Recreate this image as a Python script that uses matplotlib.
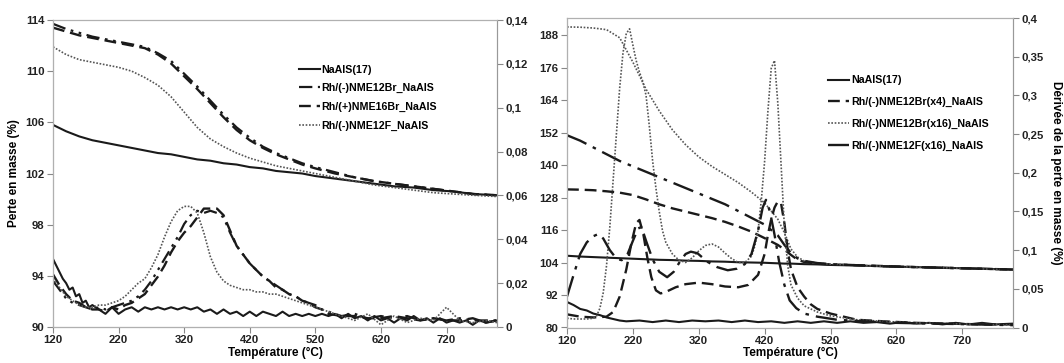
import numpy as np
import matplotlib
matplotlib.use("Agg")
import matplotlib.pyplot as plt
from matplotlib.ticker import FuncFormatter, MultipleLocator

plt.rcParams["font.family"] = ["Liberation Sans", "DejaVu Sans"]
plt.rcParams["font.weight"] = "bold"

# ---------------- left panel: TGA (primary, %) ----------------
t_tga_l = [120, 140, 160, 180, 200, 220, 240, 260, 280, 300, 320, 340, 360, 380, 400,
           420, 440, 460, 480, 500, 520, 550, 580, 610, 640, 670, 700, 730, 760, 797]
tga_l_naals = [105.8, 105.3, 104.9, 104.6, 104.4, 104.2, 104.0, 103.8, 103.6, 103.5,
               103.3, 103.1, 103.0, 102.8, 102.7, 102.5, 102.4, 102.2, 102.1, 102.0,
               101.8, 101.6, 101.4, 101.2, 101.0, 100.9, 100.7, 100.6, 100.4, 100.3]
tga_l_12br = [113.7, 113.3, 113.0, 112.7, 112.5, 112.3, 112.1, 111.9, 111.4, 110.8,
              109.8, 108.8, 107.7, 106.6, 105.6, 104.8, 104.1, 103.6, 103.2, 102.8,
              102.5, 102.1, 101.7, 101.4, 101.2, 101.0, 100.8, 100.6, 100.4, 100.3]
tga_l_16br = [113.4, 113.1, 112.8, 112.6, 112.4, 112.2, 112.0, 111.8, 111.3, 110.6,
              109.6, 108.6, 107.5, 106.4, 105.4, 104.6, 104.0, 103.5, 103.1, 102.7,
              102.4, 102.0, 101.7, 101.4, 101.2, 101.0, 100.8, 100.6, 100.4, 100.3]
tga_l_12f = [111.9, 111.3, 110.9, 110.7, 110.5, 110.3, 110.0, 109.5, 108.9, 108.0,
             106.8, 105.6, 104.7, 104.1, 103.6, 103.2, 102.9, 102.6, 102.4, 102.2,
             102.0, 101.7, 101.4, 101.1, 100.9, 100.7, 100.5, 100.4, 100.3, 100.2]

# ---------------- left panel: DTG (secondary) ----------------
t_dtg_l = [120, 130, 140, 150, 160, 170, 180, 190, 200, 210, 220, 230, 240, 250, 260,
           270, 280, 290, 300, 310, 320, 330, 340, 350, 360, 370, 380, 390, 400, 410,
           420, 430, 440, 450, 460, 470, 480, 490, 500, 510, 520, 530, 540, 560, 580,
           600, 620, 640, 660, 680, 700, 720, 740, 760, 780, 797]
dtg_l_16br = [0.024, 0.019, 0.015, 0.012, 0.011, 0.009, 0.008, 0.008, 0.007, 0.009,
              0.008, 0.010, 0.011, 0.013, 0.015, 0.019, 0.023, 0.028, 0.034, 0.039,
              0.043, 0.046, 0.050, 0.054, 0.054, 0.054, 0.051, 0.044, 0.037, 0.033,
              0.029, 0.026, 0.023, 0.021, 0.018, 0.017, 0.015, 0.014, 0.012, 0.011,
              0.009, 0.008, 0.006, 0.005, 0.005, 0.004, 0.004, 0.005, 0.004, 0.003,
              0.004, 0.003, 0.003, 0.004, 0.002, 0.003]
dtg_l_12br = [0.021, 0.017, 0.013, 0.011, 0.010, 0.009, 0.008, 0.009, 0.008, 0.009,
              0.010, 0.011, 0.012, 0.014, 0.017, 0.021, 0.026, 0.031, 0.036, 0.041,
              0.047, 0.051, 0.053, 0.052, 0.053, 0.052, 0.050, 0.043, 0.037, 0.033,
              0.029, 0.026, 0.023, 0.021, 0.019, 0.017, 0.015, 0.014, 0.012, 0.011,
              0.010, 0.008, 0.007, 0.005, 0.006, 0.004, 0.005, 0.004, 0.005, 0.003,
              0.004, 0.003, 0.004, 0.003, 0.003, 0.003]
dtg_l_12f = [0.022, 0.018, 0.014, 0.012, 0.010, 0.009, 0.009, 0.010, 0.010, 0.011,
             0.012, 0.014, 0.017, 0.020, 0.022, 0.027, 0.033, 0.041, 0.048, 0.053,
             0.055, 0.055, 0.052, 0.043, 0.032, 0.025, 0.021, 0.019, 0.018, 0.017,
             0.017, 0.016, 0.016, 0.015, 0.015, 0.014, 0.013, 0.012, 0.011, 0.010,
             0.009, 0.008, 0.007, 0.005, 0.003, 0.006, 0.001, 0.005, 0.002, 0.004,
             0.003, 0.009, 0.003, 0.002, 0.003, 0.002]
t_dtg_base = [120, 125, 130, 135, 140, 145, 150, 155, 160, 165, 170, 175, 180, 190,
              200, 210, 220, 230, 240, 250, 260, 270, 280, 290, 300, 310, 320, 330,
              340, 350, 360, 370, 380, 390, 400, 410, 420, 430, 440, 450, 460, 470,
              480, 490, 500, 510, 520, 530, 540, 550, 560, 570, 580, 590, 600, 610,
              620, 630, 640, 650, 660, 670, 680, 690, 700, 710, 720, 730, 740, 750,
              760, 770, 780, 797]
dtg_l_naals = [0.031, 0.028, 0.025, 0.022, 0.020, 0.017, 0.018, 0.014, 0.015, 0.011,
               0.012, 0.009, 0.010, 0.008, 0.006, 0.009, 0.006, 0.008, 0.009, 0.007,
               0.009, 0.008, 0.009, 0.008, 0.009, 0.008, 0.009, 0.008, 0.009, 0.007,
               0.008, 0.006, 0.008, 0.006, 0.007, 0.005, 0.007, 0.005, 0.007, 0.006,
               0.005, 0.007, 0.005, 0.006, 0.005, 0.006, 0.005, 0.006, 0.005, 0.006,
               0.004, 0.006, 0.004, 0.005, 0.003, 0.005, 0.003, 0.004, 0.002, 0.004,
               0.003, 0.005, 0.003, 0.004, 0.002, 0.004, 0.002, 0.003, 0.002, 0.003,
               0.001, 0.003, 0.002, 0.003]

# ---------------- right panel: TGA (primary, %) ----------------
t_tga_r = [120, 140, 160, 180, 200, 220, 240, 260, 280, 300, 320, 340, 360, 380, 400,
           420, 440, 450, 460, 470, 480, 500, 520, 560, 600, 650, 700, 750, 797]
tga_r_naals = [106.5, 106.2, 106.0, 105.8, 105.6, 105.4, 105.2, 105.0, 104.9, 104.7,
               104.6, 104.4, 104.3, 104.1, 104.0, 103.9, 103.7, 103.6, 103.6, 103.5,
               103.4, 103.3, 103.1, 102.9, 102.6, 102.3, 102.0, 101.7, 101.4]
tga_r_x4 = [131.0, 130.9, 130.7, 130.3, 129.8, 128.9, 127.3, 125.5, 124.0, 122.8,
            121.6, 120.4, 119.0, 117.3, 115.4, 113.0, 110.5, 108.8, 106.8, 105.0,
            104.2, 103.6, 103.3, 103.0, 102.7, 102.3, 102.0, 101.7, 101.4]
tga_r_x16 = [191.0, 190.9, 190.6, 190.0, 187.0, 178.0, 168.0, 160.0, 153.0, 147.5,
             143.0, 139.5, 136.5, 133.5, 130.0, 126.0, 120.0, 115.0, 109.0, 106.0,
             104.6, 103.8, 103.4, 103.0, 102.6, 102.3, 102.0, 101.6, 101.3]
tga_r_12f = [151.0, 149.0, 146.5, 144.0, 141.5, 139.5, 137.5, 135.5, 133.5, 131.5,
             129.5, 127.5, 125.5, 123.0, 120.5, 118.0, 114.0, 110.5, 107.5, 105.5,
             104.6, 103.8, 103.4, 103.0, 102.6, 102.3, 102.0, 101.7, 101.4]

# ---------------- right panel: DTG (secondary), (T, value) ----------------
dtg_r_naals = [(120, 0.033), (130, 0.029), (140, 0.024), (150, 0.022), (160, 0.018),
               (170, 0.016), (180, 0.013), (190, 0.011), (200, 0.009), (210, 0.008),
               (230, 0.009), (250, 0.007), (270, 0.009), (290, 0.007), (310, 0.009),
               (330, 0.008), (350, 0.009), (370, 0.007), (390, 0.009), (410, 0.007),
               (430, 0.008), (450, 0.006), (470, 0.008), (490, 0.006), (510, 0.008),
               (530, 0.006), (550, 0.008), (570, 0.006), (590, 0.007), (610, 0.005),
               (630, 0.007), (650, 0.005), (670, 0.006), (690, 0.004), (710, 0.006),
               (730, 0.004), (750, 0.006), (770, 0.004), (797, 0.005)]
dtg_r_x4 = [(120, 0.017), (140, 0.014), (160, 0.013), (180, 0.014), (190, 0.020),
            (200, 0.040), (210, 0.075), (218, 0.110), (225, 0.135), (230, 0.139),
            (236, 0.120), (242, 0.090), (248, 0.065), (255, 0.048), (262, 0.044),
            (270, 0.046), (285, 0.052), (300, 0.056), (320, 0.058), (340, 0.056),
            (360, 0.053), (380, 0.052), (395, 0.055), (410, 0.068), (420, 0.095),
            (425, 0.120), (430, 0.140), (435, 0.155), (440, 0.163), (445, 0.160),
            (450, 0.135), (455, 0.100), (460, 0.075), (470, 0.052), (480, 0.040),
            (490, 0.030), (500, 0.024), (520, 0.018), (540, 0.014), (560, 0.010),
            (600, 0.008), (650, 0.006), (700, 0.005), (750, 0.004), (797, 0.004)]
dtg_r_x16 = [(120, 0.012), (130, 0.011), (140, 0.011), (150, 0.011), (160, 0.012),
             (165, 0.015), (170, 0.025), (175, 0.045), (180, 0.080), (185, 0.130),
             (190, 0.190), (195, 0.250), (200, 0.310), (205, 0.355), (210, 0.380),
             (215, 0.386), (220, 0.365), (225, 0.345), (230, 0.330), (235, 0.318),
             (240, 0.300), (245, 0.260), (250, 0.215), (255, 0.180), (260, 0.150),
             (265, 0.125), (270, 0.110), (280, 0.095), (290, 0.087), (300, 0.084),
             (310, 0.090), (320, 0.099), (330, 0.106), (340, 0.108), (350, 0.104),
             (360, 0.096), (370, 0.089), (380, 0.084), (390, 0.084), (400, 0.092),
             (405, 0.105), (410, 0.125), (415, 0.165), (420, 0.215), (425, 0.280),
             (430, 0.335), (435, 0.345), (440, 0.290), (445, 0.210), (450, 0.130),
             (455, 0.080), (460, 0.055), (470, 0.038), (480, 0.028), (500, 0.020),
             (520, 0.015), (560, 0.010), (600, 0.008), (650, 0.006), (700, 0.005),
             (750, 0.004), (797, 0.003)]
dtg_r_12f = [(120, 0.040), (130, 0.068), (140, 0.095), (150, 0.110), (160, 0.118),
             (168, 0.121), (175, 0.115), (185, 0.100), (195, 0.089), (203, 0.087),
             (212, 0.095), (220, 0.112), (228, 0.128), (233, 0.130), (240, 0.112),
             (250, 0.088), (260, 0.072), (272, 0.065), (282, 0.072), (292, 0.086),
             (300, 0.095), (308, 0.098), (318, 0.096), (333, 0.085), (348, 0.078),
             (364, 0.074), (378, 0.076), (390, 0.082), (400, 0.095), (410, 0.125),
             (417, 0.155), (422, 0.165), (428, 0.150), (435, 0.120), (442, 0.085),
             (450, 0.055), (458, 0.035), (468, 0.025), (480, 0.018), (500, 0.014),
             (530, 0.010), (570, 0.008), (620, 0.006), (680, 0.005), (740, 0.004),
             (797, 0.003)]

labels_l = ["NaAlS(17)", "Rh/(-)NME12Br_NaAlS", "Rh/(+)NME16Br_NaAlS", "Rh/(-)NME12F_NaAlS"]
labels_r = ["NaAlS(17)", "Rh/(-)NME12Br(x4)_NaAlS", "Rh/(-)NME12Br(x16)_NaAlS",
            "Rh/(-)NME12F(x16)_NaAlS"]

SOLID = dict(color="#1a1a1a", lw=1.5, ls="-")
DASH = dict(color="#1a1a1a", lw=1.7, ls=(0, (5, 2.5)))
DDOT = dict(color="#1a1a1a", lw=1.6, ls=(0, (6, 2.5, 1.2, 2.5, 1.2, 2.5)))
DOT = dict(color="#555555", lw=1.2, ls=(0, (1, 1)))
LDDOT = dict(color="#1a1a1a", lw=1.7, ls=(0, (9, 3, 1.5, 3)))

fig = plt.figure(figsize=(10.64, 3.63), dpi=100)
axL = fig.add_axes([53 / 1064, 1 - 327 / 363, 444 / 1064, 307 / 363])
axR = fig.add_axes([567 / 1064, 1 - 327.5 / 363, 446 / 1064, 309.5 / 363])
axL2 = axL.twinx()
axR2 = axR.twinx()

comma = FuncFormatter(lambda v, p: f"{v:g}".replace(".", ","))


def style(ax, ax2):
    for a in (ax, ax2):
        for s in a.spines.values():
            s.set_color("#b0b0b0")
            s.set_linewidth(0.8)
        a.tick_params(direction="out", length=4, width=0.8, color="#888888",
                      labelsize=8.2, pad=2, labelcolor="#222222")
    ax.spines["left"].set_color("#777777")
    ax.spines["bottom"].set_color("#777777")
    ax2.spines["right"].set_color("#999999")
    ax.set_xlim(120, 797)
    ax.xaxis.set_major_locator(MultipleLocator(100))
    ax.set_xticks(np.arange(120, 797, 100))
    ax.set_xlabel("Température (°C)", fontsize=8.5, fontweight="bold", labelpad=1)
    ax2.yaxis.set_major_formatter(comma)


# left panel
a1, = axL.plot(t_tga_l, tga_l_naals, **SOLID)
a2, = axL.plot(t_tga_l, tga_l_12br, **DDOT)
a3, = axL.plot(t_tga_l, tga_l_16br, **DASH)
a4, = axL.plot(t_tga_l, tga_l_12f, **DOT)
axL2.plot(t_dtg_base, dtg_l_naals, **SOLID)
axL2.plot(t_dtg_l, dtg_l_12br, **DDOT)
axL2.plot(t_dtg_l, dtg_l_16br, **DASH)
axL2.plot(t_dtg_l, dtg_l_12f, **DOT)
axL.set_ylim(90, 114)
axL.set_yticks(np.arange(90, 115, 4))
axL2.set_ylim(0, 0.14)
axL2.set_yticks(np.arange(0, 0.141, 0.02))
style(axL, axL2)
axL.set_ylabel("Perte en masse (%)", fontsize=8.5, fontweight="bold", labelpad=4)
axL.legend([a1, a2, a3, a4], labels_l, loc="upper left", bbox_to_anchor=(0.553, 0.855),
           frameon=False, fontsize=7.7, handlelength=2.0, handletextpad=0.15,
           labelspacing=0.8, borderpad=0, borderaxespad=0)

# right panel
b1, = axR.plot(t_tga_r, tga_r_naals, **SOLID)
b2, = axR.plot(t_tga_r, tga_r_x4, **DASH)
b3, = axR.plot(t_tga_r, tga_r_x16, **DOT)
b4, = axR.plot(t_tga_r, tga_r_12f, **LDDOT)
for series, st in [(dtg_r_naals, SOLID), (dtg_r_x4, DASH), (dtg_r_x16, DOT),
                   (dtg_r_12f, LDDOT)]:
    tt, vv = np.array(series).T
    axR2.plot(tt, vv, **st)
axR.set_ylim(80, 194.3)
axR.set_yticks(np.arange(80, 189, 12))
axR2.set_ylim(0, 0.4)
axR2.set_yticks(np.arange(0, 0.401, 0.05))
style(axR, axR2)
axR2.set_ylabel("Dérivée de la perte en masse (%)", fontsize=8.5, fontweight="bold",
                rotation=270, labelpad=13)
axR.legend([b1, b2, b3, b4], labels_r, loc="upper left", bbox_to_anchor=(0.585, 0.815),
           frameon=False, fontsize=7.7, handlelength=2.0, handletextpad=0.15,
           labelspacing=1.1, borderpad=0, borderaxespad=0)

fig.savefig("out.png", dpi=100)
